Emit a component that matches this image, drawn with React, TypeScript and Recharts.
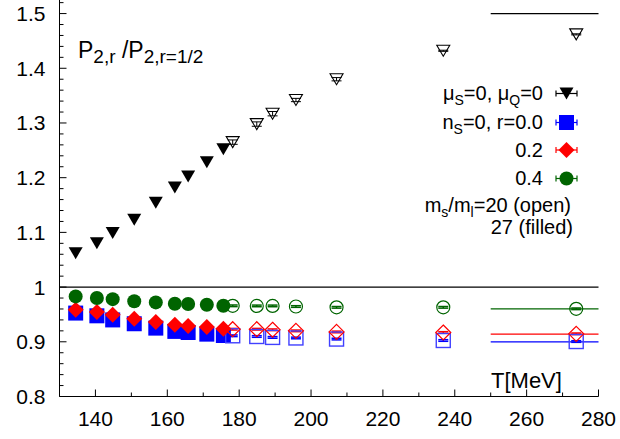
import React from "react";
import { ComposedChart, Scatter, XAxis, YAxis, ReferenceLine, ErrorBar } from "recharts";

// temperatures (MeV): filled = ms/ml=27, open = ms/ml=20
const filledT = [134.5, 140.4, 144.8, 150.8, 156.8, 162.1, 165.8, 171.0, 175.6];
const openT = [178.2, 184.9, 189.3, 195.8, 207.1, 236.8, 273.8];

// muS=0, muQ=0
const muFilled = [1.062, 1.08, 1.099, 1.123, 1.154, 1.182, 1.202, 1.228, 1.252];
const muOpen = [1.265, 1.298, 1.317, 1.342, 1.38, 1.432, 1.462];
const muOpenErr = [0.004, 0.004, 0.004, 0.003, 0.003, 0.001, 0.001];

// nS=0, r=0.0 / 0.2 / 0.4
const r00Filled = [0.9525, 0.9475, 0.94, 0.933, 0.925, 0.919, 0.917, 0.914, 0.9115];
const r00Open = [0.911, 0.9097, 0.908, 0.907, 0.905, 0.9024, 0.9005];
const r02Filled = [0.9585, 0.9543, 0.9494, 0.942, 0.936, 0.931, 0.929, 0.927, 0.924];
const r02Open = [0.923, 0.923, 0.922, 0.92, 0.918, 0.917, 0.9146];
const r04Filled = [0.983, 0.98, 0.978, 0.974, 0.972, 0.9695, 0.969, 0.9676, 0.966];
const r04Open = [0.9658, 0.9656, 0.9656, 0.9645, 0.963, 0.963, 0.9603];
const smallErr = [0.0015, 0.0015, 0.0015, 0.0015, 0.0015, 0.0015, 0.0015];

// free gas limits drawn from T=250 to 280
const limitT = [250, 280];
const limitValues = [1.5, 0.96, 0.914, 0.9];
const limitColors = ["#000000", "#006400", "#ff0000", "#0000ff"];

const xTicks = [130, 140, 150, 160, 170, 180, 190, 200, 210, 220, 230, 240, 250, 260, 270, 280];
const yTicks = Array.from({ length: 37 }, (_, i) => Number((0.8 + i * 0.02).toFixed(2)));

const GREEN = "#006400";
const FONT = "'Liberation Sans', Arial, Helvetica, sans-serif";

const rows = (ts: number[], vs: number[], es?: number[]) =>
  ts.map((t, i) => ({ t, v: vs[i], e: es ? es[i] : 0 }));

const isMajorY = (v: number) => Math.abs(v * 10 - Math.round(v * 10)) < 1e-6;

// ---- markers ----
const triPath = (cx: number, cy: number, w: number, h: number) =>
  `M${cx - w / 2},${cy - h / 2} L${cx + w / 2},${cy - h / 2} L${cx},${cy + h / 2} Z`;
const diaPath = (cx: number, cy: number, r: number) =>
  `M${cx},${cy - r} L${cx + r},${cy} L${cx},${cy + r} L${cx - r},${cy} Z`;

const TriFilled = (p: any) => <path d={triPath(p.cx, p.cy, 14, 12)} fill="#000" />;
const TriOpen = (p: any) => <path d={triPath(p.cx, p.cy, 13, 11)} fill="none" stroke="#000" strokeWidth={1.1} />;
const SqFilled = (p: any) => <rect x={p.cx - 7.5} y={p.cy - 7.5} width={15} height={15} fill="#0000ff" />;
const SqOpen = (p: any) => (
  <rect x={p.cx - 7} y={p.cy - 7} width={14} height={14} fill="none" stroke="#4040ff" strokeWidth={1.4} />
);
const DiaFilled = (p: any) => <path d={diaPath(p.cx, p.cy, 8)} fill="#ff0000" />;
const DiaOpen = (p: any) => <path d={diaPath(p.cx, p.cy, 7.5)} fill="none" stroke="#ff0000" strokeWidth={1.2} />;
const CircFilled = (p: any) => <circle cx={p.cx} cy={p.cy} r={7} fill={GREEN} />;
const CircOpen = (p: any) => <circle cx={p.cx} cy={p.cy} r={6.5} fill="none" stroke={GREEN} strokeWidth={1.2} />;

// ---- inward ticks ----
const BottomTick = ({ x, y, payload }: any) => {
  const major = payload.value % 20 === 0;
  return (
    <g>
      <line x1={x} x2={x} y1={y} y2={y - (major ? 7 : 4)} stroke="#000" />
      {major && (
        <text x={x} y={y + 29} textAnchor="middle" fontSize={21} fontFamily={FONT} fill="#000">
          {payload.value}
        </text>
      )}
    </g>
  );
};
const TopTick = ({ x, y, payload }: any) => {
  const major = payload.value % 20 === 0;
  return <line x1={x} x2={x} y1={y} y2={y + (major ? 7 : 4)} stroke="#000" />;
};
const LeftTick = ({ x, y, payload }: any) => {
  const major = isMajorY(payload.value);
  return (
    <g>
      <line x1={x} x2={x + (major ? 7 : 4)} y1={y} y2={y} stroke="#000" />
      {major && (
        <text x={x - 14} y={y + 7.5} textAnchor="end" fontSize={21} fontFamily={FONT} fill="#000">
          {String(payload.value)}
        </text>
      )}
    </g>
  );
};
const RightTick = ({ x, y, payload }: any) => {
  const major = isMajorY(payload.value);
  return <line x1={x} x2={x - (major ? 7 : 4)} y1={y} y2={y} stroke="#000" />;
};

// ---- legend (drawn as overlay) ----
const LegendSym = ({ cy, children, color }: { cy: number; children: React.ReactNode; color: string }) => (
  <g>
    <line x1={556} x2={577} y1={cy} y2={cy} stroke={color} strokeWidth={1.2} />
    <line x1={556} x2={556} y1={cy - 3} y2={cy + 3} stroke={color} strokeWidth={1.2} />
    <line x1={577} x2={577} y1={cy - 3} y2={cy + 3} stroke={color} strokeWidth={1.2} />
    {children}
  </g>
);

export default function App() {
  const mu1 = rows(filledT, muFilled);
  const mu2 = rows(openT, muOpen, muOpenErr);
  const b1 = rows(filledT, r00Filled);
  const b2 = rows(openT, r00Open, smallErr);
  const red1 = rows(filledT, r02Filled);
  const red2 = rows(openT, r02Open, smallErr);
  const g1 = rows(filledT, r04Filled);
  const g2 = rows(openT, r04Open, smallErr);

  return (
    <div style={{ position: "absolute", left: 0, top: 0, width: 620, height: 439, overflow: "hidden", background: "#fff", fontFamily: FONT }}>
      <div style={{ position: "absolute", left: 0, top: -3 }}>
        <ComposedChart width={620} height={442} margin={{ top: 0, right: 21.5, bottom: 2.5, left: 0 }}>
          <XAxis
            xAxisId={0}
            type="number"
            dataKey="t"
            domain={[130, 280]}
            ticks={xTicks}
            interval={0}
            height={40}
            tickSize={0}
            tickMargin={0}
            tickLine={false}
            axisLine={{ stroke: "#000" }}
            allowDataOverflow
            tick={(p: any) => <BottomTick {...p} />}
          />
          <XAxis
            xAxisId="top"
            orientation="top"
            type="number"
            domain={[130, 280]}
            ticks={xTicks}
            interval={0}
            height={0}
            tickSize={0}
            tickMargin={0}
            tickLine={false}
            axisLine={{ stroke: "#000" }}
            allowDataOverflow
            tick={(p: any) => <TopTick {...p} />}
          />
          <YAxis
            yAxisId={0}
            type="number"
            dataKey="v"
            domain={[0.8, 1.5303]}
            ticks={yTicks}
            interval={0}
            width={59.5}
            tickSize={0}
            tickMargin={0}
            tickLine={false}
            axisLine={{ stroke: "#000" }}
            allowDataOverflow
            tick={(p: any) => <LeftTick {...p} />}
          />
          <YAxis
            yAxisId="right"
            orientation="right"
            type="number"
            domain={[0.8, 1.5303]}
            ticks={yTicks}
            interval={0}
            width={0}
            tickSize={0}
            tickMargin={0}
            tickLine={false}
            axisLine={{ stroke: "#000" }}
            allowDataOverflow
            tick={(p: any) => <RightTick {...p} />}
          />

          <ReferenceLine y={1} stroke="#000" strokeWidth={1.3} ifOverflow="visible" />
          {limitValues.map((lv, i) => (
            <ReferenceLine
              key={i}
              segment={[
                { x: limitT[0], y: lv },
                { x: limitT[1], y: lv },
              ]}
              stroke={limitColors[i]}
              strokeWidth={1.3}
              ifOverflow="visible"
            />
          ))}

          <Scatter data={b1} dataKey="v" shape={SqFilled} isAnimationActive={false} />
          <Scatter data={b2} dataKey="v" shape={SqOpen} isAnimationActive={false}>
            <ErrorBar dataKey="e" direction="y" width={5} stroke="#0000ff" strokeWidth={1.5} isAnimationActive={false} />
          </Scatter>
          <Scatter data={red1} dataKey="v" shape={DiaFilled} isAnimationActive={false} />
          <Scatter data={red2} dataKey="v" shape={DiaOpen} isAnimationActive={false}>
            <ErrorBar dataKey="e" direction="y" width={5} stroke="#ff0000" strokeWidth={1.5} isAnimationActive={false} />
          </Scatter>
          <Scatter data={g1} dataKey="v" shape={CircFilled} isAnimationActive={false} />
          <Scatter data={g2} dataKey="v" shape={CircOpen} isAnimationActive={false}>
            <ErrorBar dataKey="e" direction="y" width={5} stroke={GREEN} strokeWidth={1.5} isAnimationActive={false} />
          </Scatter>
          <Scatter data={mu1} dataKey="v" shape={TriFilled} isAnimationActive={false} />
          <Scatter data={mu2} dataKey="v" shape={TriOpen} isAnimationActive={false}>
            <ErrorBar dataKey="e" direction="y" width={5} stroke="#000" strokeWidth={1} isAnimationActive={false} />
          </Scatter>
        </ComposedChart>
      </div>

      <svg width={620} height={439} style={{ position: "absolute", left: 0, top: 0, pointerEvents: "none" }}>
        <text x={78} y={58} fontSize={23} fontFamily={FONT} fill="#000">
          P<tspan fontSize={19} dy={5}>2,r</tspan>
          <tspan fontSize={23} dy={-5}> /P</tspan>
          <tspan fontSize={19} dy={5}>2,r=1/2</tspan>
        </text>

        <g fontFamily={FONT} fontSize={20} fill="#000" textAnchor="end">
          <text x={543} y={100}>
            μ<tspan fontSize={14} dy={5}>S</tspan>
            <tspan dy={-5}>=0, μ</tspan>
            <tspan fontSize={14} dy={5}>Q</tspan>
            <tspan dy={-5}>=0</tspan>
          </text>
          <text x={543} y={129}>
            n<tspan fontSize={14} dy={5}>S</tspan>
            <tspan dy={-5}>=0, r=0.0</tspan>
          </text>
          <text x={543} y={157}>0.2</text>
          <text x={543} y={185}>0.4</text>
          <text x={571} y={212}>
            m<tspan fontSize={14} dy={5}>s</tspan>
            <tspan dy={-5}>/m</tspan>
            <tspan fontSize={14} dy={5}>l</tspan>
            <tspan dy={-5}>=20 (open)</tspan>
          </text>
          <text x={573} y={234}>27 (filled)</text>
        </g>

        <LegendSym cy={93.5} color="#000">
          <path d={triPath(566.5, 93.5, 14, 12)} fill="#000" />
        </LegendSym>
        <LegendSym cy={122.5} color="#0000ff">
          <rect x={559} y={115} width={15} height={15} fill="#0000ff" />
        </LegendSym>
        <LegendSym cy={150} color="#ff0000">
          <path d={diaPath(566.5, 150, 8)} fill="#ff0000" />
        </LegendSym>
        <LegendSym cy={178.5} color={GREEN}>
          <circle cx={566.5} cy={178.5} r={7} fill={GREEN} />
        </LegendSym>

        <text x={491} y={388} fontSize={22} fontFamily={FONT} fill="#000">T[MeV]</text>
      </svg>
    </div>
  );
}
